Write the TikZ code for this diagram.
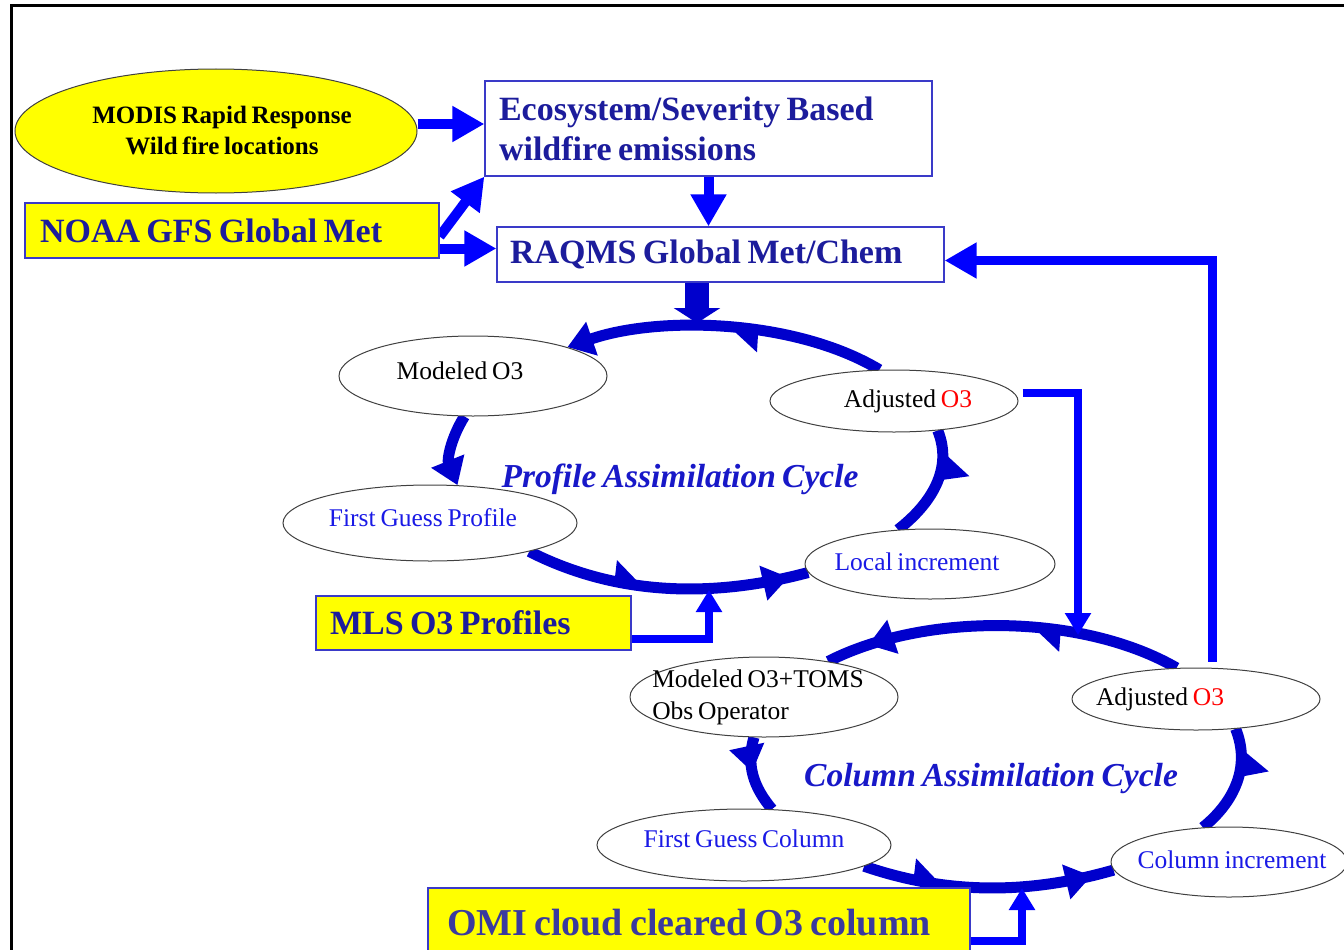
\documentclass[tikz,border=0pt]{standalone}
\usepackage{fontspec}
\setmainfont{Liberation Serif}[WordSpace=0.75]
\usetikzlibrary{arrows.meta,positioning,calc,shapes.geometric,decorations.markings,backgrounds}
\definecolor{cyBlue}{HTML}{0000FF}
\definecolor{cyDark}{HTML}{0000CC}
\definecolor{cyNavy}{HTML}{1C1C9C}
\definecolor{cySlate}{HTML}{3A3A9E}
\definecolor{cyText}{HTML}{1A1AE6}
\definecolor{cyTitle}{HTML}{1818C8}
\definecolor{cyEdge}{HTML}{3A3AC8}
\definecolor{cyGrey}{HTML}{404040}
\definecolor{cyYellow}{HTML}{FFFF00}
\tikzset{
  box/.style={draw=cyEdge, line width=1.3pt, fill=white, inner xsep=13pt, inner ysep=0pt, align=flush left, font=\rmfamily\bfseries\fontsize{34}{40}\selectfont, text=cyNavy},
  ybox/.style={box, fill=cyYellow},
  oval/.style={ellipse, draw=cyGrey, line width=1pt, fill=white, inner sep=0pt},
  ovtxt/.style={font=\rmfamily\fontsize{25.5}{32}\selectfont, text=cyText, inner sep=0pt, align=left},
  ttl/.style={font=\rmfamily\bfseries\itshape\fontsize{33.5}{40}\selectfont, text=cyTitle, inner sep=0pt},
  fat/.style={cyBlue, line width=10pt, -{Triangle[length=32pt,width=34pt]}},
  fatdk/.style={cyDark, line width=24pt, -{Triangle[length=15pt,width=46pt]}},
  fbk/.style={cyBlue, line width=8pt, -{Triangle[length=22pt,width=25pt]}},
  cyc/.style={cyDark, line width=11pt},
  mk/.style={postaction={decorate}, decoration={markings, #1}},
  tri/.tip={Stealth[inset=0pt,length=26pt,width=34pt]},
  barbL/.tip={Stealth[inset=0pt,length=28pt,width=44pt,harpoon]},
  barbR/.tip={Stealth[inset=0pt,length=28pt,width=44pt,harpoon,swap]},
}
\begin{document}
\begin{tikzpicture}[x=1pt,y=1pt]
\useasboundingbox (0,0) rectangle (1344,-950);
\draw[line width=3pt] (11.5,-950) -- (11.5,-6) -- (1344,-6);

% sources and model
\node[oval, fill=cyYellow, minimum width=402pt, minimum height=124pt,
  label={[font=\rmfamily\bfseries\fontsize{25}{31}\selectfont, align=center, xshift=6pt]center:{MODIS Rapid Response\\Wild fire locations}}] (modis) at (216,-131) {};
\node[box, text width=419pt, inner xsep=14pt, minimum height=95pt] (eco) at (708.5,-128.5) {Ecosystem/Severity Based\\wildfire emissions};
\node[ybox, text width=384pt, inner xsep=15pt, minimum height=55pt] (noaa) at (232,-230.5) {NOAA GFS Global Met};
\node[box, text width=421pt, minimum height=55pt] (raqms) at (720.5,-254.5) {RAQMS Global Met/Chem};

% profile cycle
\node[oval, minimum width=268pt, minimum height=80pt, label={[ovtxt, text=black, xshift=-13pt, yshift=5pt]center:Modeled O3}] (modP) at (473,-376) {};
\node[oval, minimum width=248pt, minimum height=62pt, label={[ovtxt, text=black, xshift=14pt]center:Adjusted \textcolor{red}{O3}}] (adjP) at (894,-401) {};
\node[oval, minimum width=294pt, minimum height=76pt, label={[ovtxt, xshift=-7pt, yshift=5pt]center:First Guess Profile}] (fgP) at (430,-523) {};
\node[oval, minimum width=250pt, minimum height=70pt, label={[ovtxt, xshift=-13pt, yshift=2pt]center:Local increment}] (locP) at (930,-564) {};
\node[ttl] (ttlP) at (680,-479) {Profile Assimilation Cycle};
\node[ybox, text width=287pt, inner xsep=14pt, minimum height=54pt] (mls) at (473.5,-623) {MLS O3 Profiles};

% column cycle
\node[oval, minimum width=268pt, minimum height=80pt, label={[ovtxt, text=black, xshift=-6pt]center:{Modeled O3+TOMS\\Obs Operator}}] (modC) at (764,-697) {};
\node[oval, minimum width=248pt, minimum height=62pt, label={[ovtxt, text=black, xshift=-36pt]center:Adjusted \textcolor{red}{O3}}] (adjC) at (1196,-699) {};
\node[oval, minimum width=294pt, minimum height=72pt, label={[ovtxt, yshift=6pt]center:First Guess Column}] (fgC) at (744,-845) {};
\node[oval, minimum width=236pt, minimum height=70pt, label={[ovtxt, xshift=3pt, yshift=2pt]center:Column increment}] (colC) at (1229,-862) {};
\node[ttl] (ttlC) at (991,-778) {Column Assimilation Cycle};
\node[ybox, text width=504pt, inner xsep=19pt, minimum height=70pt, text=cySlate, font=\rmfamily\bfseries\fontsize{38}{44}\selectfont] (omi) at (699,-923) {OMI cloud cleared O3 column};

\coordinate (topP) at (697,-323);
\coordinate (botP) at (709,-590);
\coordinate (topC) at (1078,-635);
\coordinate (botC) at (1022,-888);

\begin{scope}[on background layer]
  \draw[fat] ([yshift=7pt]modis.east) -- ([yshift=7pt]modis.east -| eco.west);
  \draw[fat] ([yshift=-6pt]noaa.east) -- (eco.south west);
  \draw[fat] ([yshift=-18pt]noaa.east) -- ([yshift=-18pt]noaa.east -| raqms.west);
  \draw[fat] (eco.south) -- (eco.south |- raqms.north);
  \draw[fatdk] (raqms.south -| topP) -- (topP);
  % profile cycle arcs
  \draw[cyc, -{tri}, mk={mark=at position .5 with {\arrow{barbL}}}] (adjP.115) to[out=149,in=19,looseness=.8] (modP.17);
  \draw[cyc, -{tri}] (modP.258) to[out=238,in=112] (fgP.54);
  \draw[cyc, mk={mark=at position .43 with {\arrow{barbL}}, mark=at position .93 with {\arrow{tri}}}] (fgP.344) to[out=333,in=195,looseness=.9] (locP.184);
  \draw[cyc, mk={mark=at position .85 with {\arrow{barbR}}}] (locP.133) to[out=38,in=292] (adjP.326);
  % column cycle arcs
  \draw[cyc, mk={mark=at position .43 with {\arrow{barbL}}, mark=at position .88 with {\arrow{tri}}}] (adjC.122) to[out=150,in=27,looseness=.8] (modC.29);
  \draw[cyc, mk={mark=at position .45 with {\arrow{tri}}}] (modC.256) to[out=254,in=130] (fgC.52);
  \draw[cyc, mk={mark=at position .33 with {\arrow{barbL}}, mark=at position .91 with {\arrow{tri}}}] (fgC.350) to[out=341,in=196,looseness=.9] (colC.184);
  \draw[cyc, mk={mark=at position .86 with {\arrow{barbR}}}] (colC.127) to[out=39,in=292] (adjC.323);
  % feedbacks
  \draw[fbk] ([shift={(4pt,8pt)}]adjP.east) -| (topC);
  \draw[fbk] ([yshift=-16pt]mls.east) -| (botP);
  \draw[fbk] ([yshift=-18pt]omi.east) -| (botC);
  \draw[fbk, line width=9pt, -{Triangle[length=32pt,width=34pt]}] ([shift={(16pt,6pt)}]adjC.north) |- ([yshift=-6pt]raqms.east);
\end{scope}
\end{tikzpicture}
\end{document}
